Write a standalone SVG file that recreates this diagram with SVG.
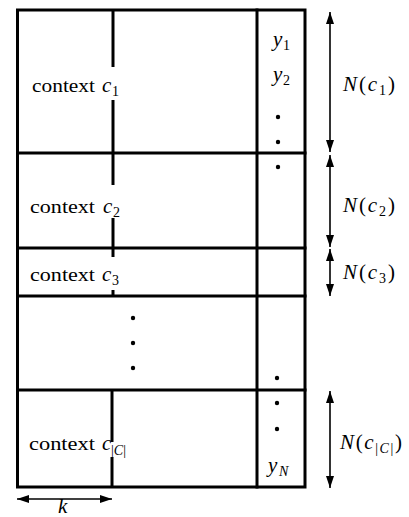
<svg xmlns="http://www.w3.org/2000/svg" width="409" height="517" viewBox="0 0 409 517">
<style>
.grid{stroke:#000;stroke-width:3;fill:none;stroke-linecap:square}
.col{stroke:#000;stroke-width:3;fill:none}
.arr{stroke:#000;stroke-width:1.6;fill:none}
.t{font-family:"Liberation Serif","Times New Roman",serif;font-size:19px;fill:#000}
.m{font-family:"Liberation Serif","Times New Roman",serif;font-size:21px;fill:#000}
.i{font-style:italic}
.s{font-size:14px}
.dot{fill:#000}
</style>
<defs>
<marker id="ahv" viewBox="0 0 10 10" refX="10" refY="5" markerWidth="12" markerHeight="8" markerUnits="userSpaceOnUse" orient="auto-start-reverse" preserveAspectRatio="none">
<path d="M0,0 L10,5 L0,10 z" fill="#000"/>
</marker>
</defs>
<rect width="409" height="517" fill="#fff"/>
<g id="table">
<rect class="grid" x="17.5" y="10" width="287.5" height="477"/>
<line class="grid" x1="257" y1="10" x2="257" y2="487"/>
<line class="grid" x1="17.5" y1="153" x2="305" y2="153"/>
<line class="grid" x1="17.5" y1="248" x2="305" y2="248"/>
<line class="grid" x1="17.5" y1="296" x2="305" y2="296"/>
<line class="grid" x1="17.5" y1="390" x2="305" y2="390"/>
</g>
<g id="row-c1">
<line class="col" x1="113" y1="10" x2="113" y2="67"/>
<line class="col" x1="113" y1="100" x2="113" y2="153"/>
<text class="t" x="32" y="92" textLength="63" lengthAdjust="spacingAndGlyphs">context</text>
<text class="m i" x="102" y="92">c</text><text class="m s" x="112" y="96">1</text>
</g>
<g id="row-c2">
<line class="col" x1="113" y1="153" x2="113" y2="185"/>
<line class="col" x1="113" y1="218" x2="113" y2="257"/>
<text class="t" x="30" y="213" textLength="65" lengthAdjust="spacingAndGlyphs">context</text>
<text class="m i" x="103" y="213">c</text><text class="m s" x="113" y="217">2</text>
</g>
<g id="row-c3">
<line class="col" x1="113" y1="290" x2="113" y2="296"/>
<text class="t" x="30" y="281" textLength="65" lengthAdjust="spacingAndGlyphs">context</text>
<text class="m i" x="102" y="281">c</text><text class="m s" x="112" y="285">3</text>
</g>
<g id="row-dots">
<circle class="dot" cx="133" cy="318" r="2.2"/>
<circle class="dot" cx="133" cy="343" r="2.2"/>
<circle class="dot" cx="133" cy="368" r="2.2"/>
</g>
<g id="row-cC">
<line class="col" x1="112" y1="390" x2="112" y2="442"/>
<line class="col" x1="112" y1="457" x2="112" y2="487"/>
<text class="t" x="29" y="450" textLength="66" lengthAdjust="spacingAndGlyphs">context</text>
<text class="m i" x="102" y="450">c</text><text class="m s" x="111" y="455">|<tspan class="i">C</tspan>|</text>
</g>
<g id="y-column">
<text class="m i" x="273" y="46">y</text><text class="m s" x="283" y="50">1</text>
<text class="m i" x="273" y="81">y</text><text class="m s" x="283" y="85">2</text>
<circle class="dot" cx="278" cy="117" r="2.2"/>
<circle class="dot" cx="278" cy="142" r="2.2"/>
<circle class="dot" cx="278" cy="167" r="2.2"/>
<circle class="dot" cx="277" cy="378" r="2.2"/>
<circle class="dot" cx="277" cy="403" r="2.2"/>
<circle class="dot" cx="277" cy="429" r="2.2"/>
<text class="m i" x="268" y="472">y</text><text class="m s i" x="279" y="476">N</text>
</g>
<g id="connectors">
<line class="arr" x1="330" y1="12" x2="330" y2="152" marker-start="url(#ahv)" marker-end="url(#ahv)"/>
<line class="arr" x1="330" y1="155" x2="330" y2="247" marker-start="url(#ahv)" marker-end="url(#ahv)"/>
<line class="arr" x1="330" y1="249" x2="330" y2="296" marker-start="url(#ahv)" marker-end="url(#ahv)"/>
<line class="arr" x1="330" y1="391" x2="330" y2="488" marker-start="url(#ahv)" marker-end="url(#ahv)"/>
<line class="arr" x1="17" y1="499" x2="112" y2="499" marker-start="url(#ahv)" marker-end="url(#ahv)"/>
</g>
<g id="labels">
<text class="m" x="343" y="91" textLength="52" lengthAdjust="spacing"><tspan class="i">N</tspan>(<tspan class="i">c</tspan><tspan class="s" dy="4">1</tspan><tspan dy="-4">)</tspan></text>
<text class="m" x="343" y="212" textLength="52" lengthAdjust="spacing"><tspan class="i">N</tspan>(<tspan class="i">c</tspan><tspan class="s" dy="4">2</tspan><tspan dy="-4">)</tspan></text>
<text class="m" x="343" y="279" textLength="52" lengthAdjust="spacing"><tspan class="i">N</tspan>(<tspan class="i">c</tspan><tspan class="s" dy="4">3</tspan><tspan dy="-4">)</tspan></text>
<text class="m" x="340" y="449" textLength="62" lengthAdjust="spacing"><tspan class="i">N</tspan>(<tspan class="i">c</tspan><tspan class="s" dy="4">|<tspan class="i">C</tspan>|</tspan><tspan dy="-4">)</tspan></text>
<text class="m i" x="58" y="513">k</text>
</g>
</svg>
